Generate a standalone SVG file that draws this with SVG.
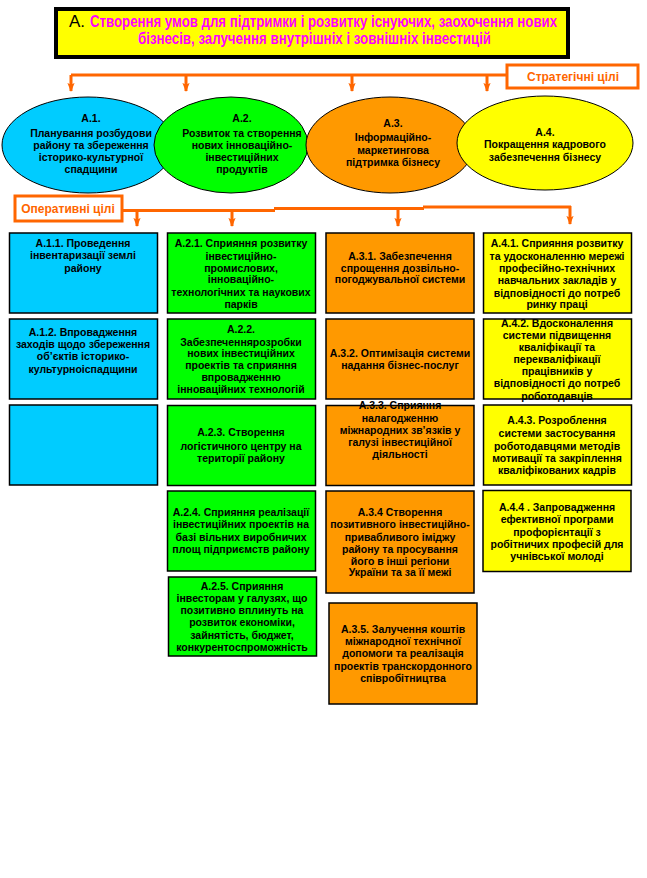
<svg xmlns="http://www.w3.org/2000/svg" width="647" height="878" viewBox="0 0 647 878">
<style>
.t{font-family:"Liberation Sans",Arial,sans-serif;font-weight:bold;font-size:10.5px;fill:#000;text-anchor:middle}
.ttl{font-family:"Liberation Sans",Arial,sans-serif;font-weight:bold;font-size:14px;fill:#FF00FF}
.lbl{font-family:"Liberation Sans",Arial,sans-serif;font-weight:bold;font-size:12px;fill:#FF6600;text-anchor:middle}
.bx{stroke:#000;stroke-width:1.5}
.el{stroke:#000;stroke-width:1}
.cy{fill:#00CCFF}.gr{fill:#00FF00}.or{fill:#FF9900}.ye{fill:#FFFF00}
.conn{fill:none;stroke:#FF6600;stroke-width:3}
.arr{fill:none;stroke:#FF6600;stroke-width:3;marker-end:url(#ah)}
</style>
<defs>
<marker id="ah" markerUnits="userSpaceOnUse" viewBox="0 0 10 10" refX="9" refY="5" markerWidth="9" markerHeight="9" orient="auto">
<path d="M0,1 L10,5 L0,9 L2,5 z" fill="#FF6600"/>
</marker>
</defs>
<rect width="647" height="878" fill="#fff"/>

<g id="title">
<rect x="56" y="9" width="512" height="48" fill="#FFFF00" stroke="#000" stroke-width="4"/>
<text x="69" y="27" style="font-family:'Liberation Sans',Arial,sans-serif;font-size:17px;fill:#000">А.</text>
<text class="ttl" transform="translate(90,27) scale(1,1.14)" x="0" y="0" textLength="467" lengthAdjust="spacingAndGlyphs">Створення умов для підтримки і розвитку існуючих, заохочення нових</text>
<text class="ttl" transform="translate(138,44) scale(1,1.14)" x="0" y="0" textLength="353" lengthAdjust="spacingAndGlyphs">бізнесів, залучення внутрішніх і зовнішніх інвестицій</text>
</g>

<g id="connectors">
<path class="conn" d="M507,75 H71"/>
<path class="arr" d="M71,75 V91"/>
<path class="arr" d="M186,75 V91"/>
<path class="arr" d="M352,75 V91"/>
<path class="arr" d="M487,75 V91"/>
<path class="conn" d="M122,210.5 H275"/>
<path class="conn" d="M274,208.5 H424"/>
<path class="conn" d="M423,207 H571"/>
<path class="arr" d="M137,210 V226"/>
<path class="arr" d="M232,209 V226"/>
<path class="arr" d="M398,208 V226"/>
<path class="arr" d="M570,206 V224"/>
</g>

<g id="strat-label">
<rect x="507" y="65" width="131" height="23" fill="#fff" stroke="#FF6600" stroke-width="3"/>
<text class="lbl" x="573" y="81">Стратегічні цілі</text>
</g>

<g id="A1">
<ellipse class="el cy" cx="88" cy="145" rx="86" ry="48"/>
<text class="t"><tspan x="91" y="122">А.1.</tspan><tspan x="91" y="137">Планування розбудови</tspan><tspan x="91" y="149">району та збереження</tspan><tspan x="91" y="161">історико-культурної</tspan><tspan x="91" y="173">спадщини</tspan></text>
</g>
<g id="A2">
<ellipse class="el gr" cx="231" cy="145" rx="77" ry="48"/>
<text class="t"><tspan x="242" y="122">А.2.</tspan><tspan x="242" y="137">Розвиток та створення</tspan><tspan x="242" y="149">нових інноваційно-</tspan><tspan x="242" y="161">інвестиційних</tspan><tspan x="242" y="173">продуктів</tspan></text>
</g>
<g id="A3">
<ellipse class="el or" cx="390" cy="145" rx="84" ry="48"/>
<text class="t"><tspan x="393" y="127">А.3.</tspan><tspan x="393" y="141">Інформаційно-</tspan><tspan x="393" y="154">маркетингова</tspan><tspan x="393" y="166">підтримка бізнесу</tspan></text>
</g>
<g id="A4">
<ellipse class="el ye" cx="545" cy="143" rx="88" ry="47"/>
<text class="t"><tspan x="545" y="136">А.4.</tspan><tspan x="545" y="148">Покращення кадрового</tspan><tspan x="545" y="161">забезпечення бізнесу</tspan></text>
</g>

<g id="oper-label">
<rect x="15" y="196" width="107" height="25" fill="#fff" stroke="#FF6600" stroke-width="3"/>
<text class="lbl" x="68" y="213">Оперативні цілі</text>
</g>

<g id="A11">
<rect class="bx cy" x="9.5" y="233" width="148" height="80"/>
<text class="t"><tspan x="83" y="247">А.1.1. Проведення</tspan><tspan x="83" y="259">інвентаризації землі</tspan><tspan x="83" y="272">району</tspan></text>
</g>
<g id="A12">
<rect class="bx cy" x="9.5" y="319" width="148" height="80"/>
<text class="t"><tspan x="83" y="336">А.1.2.  Впровадження</tspan><tspan x="83" y="348">заходів щодо збереження</tspan><tspan x="83" y="360">об’єктів історико-</tspan><tspan x="83" y="373">культурноіспадщини</tspan></text>
</g>
<g id="A1-empty">
<rect class="bx cy" x="9.5" y="405" width="148" height="80"/>
</g>

<g id="A21">
<rect class="bx gr" x="167.5" y="233" width="148" height="80"/>
<text class="t"><tspan x="241" y="247">А.2.1. Сприяння розвитку</tspan><tspan x="241" y="260">інвестиційно-</tspan><tspan x="241" y="272">промислових,</tspan><tspan x="241" y="283">інноваційно-</tspan><tspan x="241" y="296">технологічних та наукових</tspan><tspan x="241" y="308">парків</tspan></text>
</g>
<g id="A22">
<rect class="bx gr" x="167.5" y="319" width="148" height="80"/>
<text class="t"><tspan x="241" y="333">А.2.2.</tspan><tspan x="241" y="346">Забезпеченнярозробки</tspan><tspan x="241" y="357">нових інвестиційних</tspan><tspan x="241" y="369">проектів  та  сприяння</tspan><tspan x="241" y="381">впровадженню</tspan><tspan x="241" y="393">інноваційних технологій</tspan></text>
</g>
<g id="A23">
<rect class="bx gr" x="167.5" y="405.5" width="148" height="80"/>
<text class="t"><tspan x="241" y="436">А.2.3. Створення</tspan><tspan x="241" y="450">логістичного центру на</tspan><tspan x="241" y="462">території  району</tspan></text>
</g>
<g id="A24">
<rect class="bx gr" x="167.5" y="491" width="148" height="80"/>
<text class="t"><tspan x="241" y="516">А.2.4. Сприяння реалізації</tspan><tspan x="241" y="528">інвестиційних проектів на</tspan><tspan x="241" y="541">базі вільних виробничих</tspan><tspan x="241" y="553">площ підприємств  району</tspan></text>
</g>
<g id="A25">
<rect class="bx gr" x="168.5" y="577" width="148" height="79"/>
<text class="t"><tspan x="242" y="590">А.2.5. Сприяння</tspan><tspan x="242" y="602">інвесторам у галузях, що</tspan><tspan x="242" y="614">позитивно вплинуть на</tspan><tspan x="242" y="626">розвиток економіки,</tspan><tspan x="242" y="639">зайнятість, бюджет,</tspan><tspan x="242" y="651">конкурентоспроможність</tspan></text>
</g>

<g id="A31">
<rect class="bx or" x="326" y="233" width="148" height="80"/>
<text class="t"><tspan x="400" y="260">А.3.1. Забезпечення</tspan><tspan x="400" y="272">спрощення дозвільно-</tspan><tspan x="400" y="283">погоджувальної системи</tspan></text>
</g>
<g id="A32">
<rect class="bx or" x="326" y="319" width="148" height="80"/>
<text class="t"><tspan x="400" y="357">А.3.2. Оптимізація системи</tspan><tspan x="400" y="369">надання бізнес-послуг</tspan></text>
</g>
<g id="A33">
<rect class="bx or" x="326" y="405.5" width="148" height="80"/>
<text class="t"><tspan x="400" y="409">А.3.3. Сприяння</tspan><tspan x="400" y="422">налагодженню</tspan><tspan x="400" y="434">міжнародних зв’язків у</tspan><tspan x="400" y="446">галузі інвестиційної</tspan><tspan x="400" y="458">діяльності</tspan></text>
</g>
<g id="A34">
<rect class="bx or" x="326" y="491" width="148" height="102"/>
<text class="t"><tspan x="400" y="516">А.3.4 Створення</tspan><tspan x="400" y="528">позитивного інвестиційно-</tspan><tspan x="400" y="541">привабливого іміджу</tspan><tspan x="400" y="553">району та просування</tspan><tspan x="400" y="565">його в інші регіони</tspan><tspan x="400" y="576">України та за її межі</tspan></text>
</g>
<g id="A35">
<rect class="bx or" x="329" y="603" width="148" height="101"/>
<text class="t"><tspan x="403" y="633">А.3.5. Залучення коштів</tspan><tspan x="403" y="645">міжнародної технічної</tspan><tspan x="403" y="657">допомоги та реалізація</tspan><tspan x="403" y="670">проектів транскордонного</tspan><tspan x="403" y="682">співробітництва</tspan></text>
</g>

<g id="A41">
<rect class="bx ye" x="483.5" y="233" width="148" height="80"/>
<text class="t"><tspan x="557" y="247">А.4.1. Сприяння розвитку</tspan><tspan x="557" y="260">та удосконаленню мережі</tspan><tspan x="557" y="272">професійно-технічних</tspan><tspan x="557" y="284">навчальних закладів у</tspan><tspan x="557" y="297">відповідності до потреб</tspan><tspan x="557" y="308">ринку праці</tspan></text>
</g>
<g id="A42">
<rect class="bx ye" x="483.5" y="319" width="148" height="80"/>
<text class="t"><tspan x="557" y="327">А.4.2. Вдосконалення</tspan><tspan x="557" y="339">системи підвищення</tspan><tspan x="557" y="351">кваліфікації та</tspan><tspan x="557" y="363">перекваліфікації</tspan><tspan x="557" y="375">працівників у</tspan><tspan x="557" y="387">відповідності до потреб</tspan><tspan x="557" y="400">роботодавців</tspan></text>
</g>
<g id="A43">
<rect class="bx ye" x="483.5" y="405" width="148" height="80"/>
<text class="t"><tspan x="557" y="424">А.4.3. Розроблення</tspan><tspan x="557" y="437">системи застосування</tspan><tspan x="557" y="450">роботодавцями методів</tspan><tspan x="557" y="462">мотивації та закріплення</tspan><tspan x="557" y="474">кваліфікованих кадрів</tspan></text>
</g>
<g id="A44">
<rect class="bx ye" x="483" y="490.5" width="148" height="81"/>
<text class="t"><tspan x="557" y="511">А.4.4 . Запровадження</tspan><tspan x="557" y="523">ефективної програми</tspan><tspan x="557" y="536">профорієнтації з</tspan><tspan x="557" y="548">робітничих професій для</tspan><tspan x="557" y="560">учнівської молоді</tspan></text>
</g>
</svg>
